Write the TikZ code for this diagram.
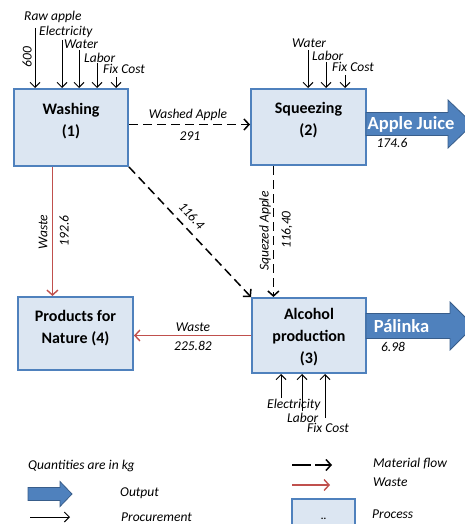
\documentclass[tikz,border=0pt]{standalone}
\usepackage{fontspec}
\setmainfont{Carlito}
\usetikzlibrary{arrows.meta,calc}

\definecolor{procblue}{RGB}{220,230,242}
\definecolor{edgeblue}{RGB}{79,129,189}
\definecolor{darkblue}{RGB}{56,93,138}
\definecolor{wastered}{RGB}{192,80,77}

\begin{document}
\begin{tikzpicture}[x=1pt,y=-1pt,
  proc/.style={draw=edgeblue,fill=procblue,line width=2pt,inner sep=0pt},
  proctxt/.style={align=center,font=\fontsize{16}{22}\selectfont\bfseries},
  lab/.style={font=\fontsize{13.5}{16}\selectfont\itshape,inner sep=0pt},
  flow/.style={dash pattern=on 9pt off 5pt,line width=1.5pt,-{Straight Barb[length=5pt,width=11pt]}},
  waste/.style={wastered,line width=1.4pt,-{Straight Barb[length=5pt,width=11pt]}},
  procure/.style={line width=1pt,-{Straight Barb[length=5pt,width=10pt]}},
  outarrow/.style={fill=edgeblue,draw=darkblue,line width=0.8pt},
  outtxt/.style={white,font=\fontsize{18.5}{20}\selectfont\bfseries,inner sep=0pt}]
\useasboundingbox (0,0) rectangle (465,524);

% processes
\node[proc,minimum width=114pt,minimum height=77pt] (wash) at (71,127.5) {};
\node[proctxt] (washT) at (71,121) {Washing\\(1)};
\node[proc,minimum width=115pt,minimum height=76pt] (sq) at (308.5,127) {};
\node[proctxt] (sqT) at (308.5,120) {Squeezing\\(2)};
\node[proc,minimum width=115pt,minimum height=73pt] (prod) at (75.5,333.5) {};
\node[proctxt] (prodT) at (75.5,328.5) {Products for\\Nature (4)};
\node[proc,minimum width=114pt,minimum height=75pt] (alc) at (309,335.5) {};
\node[proctxt] (alcT) at (309,337.5) {Alcohol\\production\\(3)};

% procurement into washing
\node[lab,anchor=west] (rawL) at (24,17) {Raw apple};
\node[lab,rotate=90] (rawN) at (27,57) {600};
\node[lab,anchor=west] (elecL) at (39,32) {Electricity};
\node[lab,anchor=west] (waterL) at (64,44) {Water};
\node[lab,anchor=west] (laborL) at (84,58) {Labor};
\node[lab,anchor=west] (fixL) at (103,69) {Fix Cost};
\coordinate (rawS) at (35,28);
\coordinate (elecS) at (62,40);
\coordinate (waterS) at (79,50);
\coordinate (laborS) at (97,63);
\coordinate (fixS) at (116,77);
\draw[procure] (rawS) -- (rawS |- wash.north);
\draw[procure] (elecS) -- (elecS |- wash.north);
\draw[procure] (waterS) -- (waterS |- wash.north);
\draw[procure] (laborS) -- (laborS |- wash.north);
\draw[procure] (fixS) -- (fixS |- wash.north);

% procurement into squeezing
\node[lab,anchor=west] (waterL2) at (292,43) {Water};
\node[lab,anchor=west] (laborL2) at (312,56) {Labor};
\node[lab,anchor=west] (fixL2) at (332,67) {Fix Cost};
\coordinate (waterS2) at (308,50);
\coordinate (laborS2) at (326,62);
\coordinate (fixS2) at (345,75);
\draw[procure] (waterS2) -- (waterS2 |- sq.north);
\draw[procure] (laborS2) -- (laborS2 |- sq.north);
\draw[procure] (fixS2) -- (fixS2 |- sq.north);

% procurement into alcohol production
\node[lab,anchor=west] (elecL3) at (267,405) {Electricity};
\node[lab,anchor=west] (laborL3) at (287,418) {Labor};
\node[lab,anchor=west] (fixL3) at (307,428) {Fix Cost};
\coordinate (elecS3) at (281,398);
\coordinate (laborS3) at (302,411);
\coordinate (fixS3) at (325,418);
\draw[procure] (elecS3) -- (elecS3 |- alc.south);
\draw[procure] (laborS3) -- (laborS3 |- alc.south);
\draw[procure] (fixS3) -- (fixS3 |- alc.south);

% material flows
\draw[flow] ([yshift=3pt]wash.east) -- ([yshift=3pt]wash.east -| sq.west);
\node[lab] (washedL) at (188,115) {Washed Apple};
\node[lab] (washedN) at (190,136) {291};
\draw[flow] (wash.south east) -- node[lab,sloped,above=7pt,pos=0.44] (diagN) {116.4} (alc.north west);
\draw[flow] ($(sq.south west)!0.2!(sq.south east)$) coordinate (sqS) -- (sqS |- alc.north);
\node[lab,rotate=90] (sqL) at (265,231) {Squezed Apple};
\node[lab,rotate=90] (sqN) at (287,230) {116,40};

% waste
\draw[waste] ($(wash.south west)!0.34!(wash.south east)$) coordinate (wS) -- (wS |- prod.north);
\node[lab,rotate=90] (wasteL1) at (43,232) {Waste};
\node[lab,rotate=90] (wasteN1) at (64,231) {192.6};
\draw[waste] (alc.west) -- (alc.west -| prod.east);
\node[lab] (wasteL2) at (193,327) {Waste};
\node[lab] (wasteN2) at (193,346) {225.82};

% outputs
\draw[outarrow] (366,112.5) -- (448,112.5) -- (448,100) -- (473,124) -- (448,148) -- (448,135.5) -- (366,135.5) -- cycle;
\node[outtxt] (juiceT) at (411,124) {Apple Juice};
\node[lab] (juiceN) at (392,143) {174.6};
\draw[outarrow] (366,313.5) -- (450,313.5) -- (450,302) -- (474,326) -- (450,350) -- (450,338.5) -- (366,338.5) -- cycle;
\node[outtxt] (palT) at (401.5,326) {Pálinka};
\node[lab] (palN) at (393,347) {6.98};

% legend
\node[lab,anchor=west] (unitL) at (28,466) {Quantities are in kg};
\draw[outarrow] (28,487.5) -- (60,487.5) -- (60,481.5) -- (72,494) -- (60,506.5) -- (60,500.5) -- (28,500.5) -- cycle;
\node[lab,anchor=west] (outL) at (120,493) {Output};
\coordinate (procA) at (30,517);
\coordinate (procB) at (70,517);
\draw[procure] (procA) -- (procB);
\node[lab,anchor=west] (procL) at (121,517) {Procurement};
\coordinate (flowA) at (292,465);
\coordinate (flowB) at (332,465);
\draw[flow,dash pattern=on 19pt off 4pt] (flowA) -- (flowB);
\node[lab,anchor=west] (flowL) at (373,464) {Material flow};
\coordinate (wasteA) at (292,485);
\coordinate (wasteB) at (330,485);
\draw[waste] (wasteA) -- (wasteB);
\node[lab,anchor=west] (wasteL) at (373,482) {Waste};
\node[proc,minimum width=63pt,minimum height=40pt,font=\bfseries] (procBox) at (323.5,519) {..};
\node[lab,anchor=west] (procLab) at (372,514) {Process};
\end{tikzpicture}
\end{document}
